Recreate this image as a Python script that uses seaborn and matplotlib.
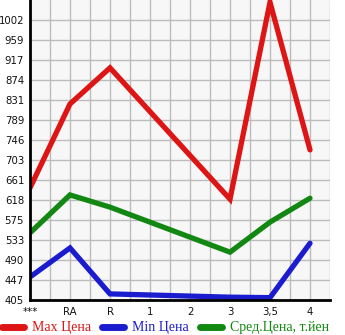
import numpy as np
import pandas as pd
import matplotlib
matplotlib.use("Agg")
import matplotlib.pyplot as plt
from matplotlib.lines import Line2D
import seaborn as sns

categories = ["***", "RA", "R", "1", "2", "3", "3,5", "4"]
max_price = [644, 823, 900, np.nan, np.nan, 620, 1040, 725]
min_price = [454, 516, 418, np.nan, np.nan, 411, 410, 526]
avg_price = [548, 629, 603, np.nan, np.nan, 507, 571, 622]
y_ticks = [405, 447, 490, 533, 575, 618, 661, 703, 746, 789, 831, 874, 917, 959, 1002]
series_names = ["Max Цена", "Min Цена", "Сред.Цена, т.йен"]
colors = ["#dd1515", "#1c1ccf", "#128812"]

rows = []
for name, vals in zip(series_names, [max_price, min_price, avg_price]):
    for i, v in enumerate(vals):
        if not np.isnan(v):
            rows.append({"pos": i, "value": v, "series": name})
df = pd.DataFrame(rows)

sns.set_style("white")
fig = plt.figure(figsize=(3.45, 3.35), dpi=100)
ax = fig.add_axes([30 / 345, 35 / 335, 300 / 345, 300 / 335])
ax.set_facecolor("#f7f7f7")

sns.lineplot(data=df, x="pos", y="value", hue="series", palette=colors,
             hue_order=series_names, linewidth=3.8, ax=ax, legend=False,
             sort=True, estimator=None)
for ln in ax.lines:
    ln.set_solid_capstyle("round")
    ln.set_solid_joinstyle("miter")

step = (y_ticks[-1] - y_ticks[0]) / (len(y_ticks) - 1)
ax.set_xlim(0, 7.5)
ax.set_ylim(y_ticks[0], y_ticks[-1] + step)
ax.set_xticks(range(len(categories)))
ax.set_xticklabels(categories)
ax.set_xticks(np.arange(0.5, 7.6, 1.0), minor=True)
ax.set_yticks(y_ticks)
ax.set_yticklabels([str(t) for t in y_ticks])
ax.grid(True, which="both", color="#bcbcbc", linewidth=1.0)
ax.set_axisbelow(True)
ax.set_xlabel("")
ax.set_ylabel("")
for s in ["top", "right"]:
    ax.spines[s].set_visible(False)
for s in ["left", "bottom"]:
    ax.spines[s].set_color("black")
    ax.spines[s].set_linewidth(2)
ax.tick_params(axis="both", which="both", length=3, width=1, color="black",
               labelsize=7.3, labelcolor="#111111", pad=2)
ax.tick_params(axis="y", which="major", direction="out", pad=1.2)
ax.tick_params(axis="x", which="both", direction="out")
for lab in ax.get_xticklabels() + ax.get_yticklabels():
    lab.set_family("DejaVu Sans")

handles = [Line2D([0], [0], color=c, linewidth=5, solid_capstyle="round") for c in colors]
leg = fig.legend(handles, series_names, loc="center left", bbox_to_anchor=(2 / 345, 7 / 335),
                 ncol=3, frameon=False, handlelength=1.6, handletextpad=0.55,
                 columnspacing=0.8, borderpad=0, borderaxespad=0,
                 prop={"family": "Liberation Serif", "size": 10})
for t, c in zip(leg.get_texts(), colors):
    t.set_color(c)

fig.savefig("out.png", dpi=100)
